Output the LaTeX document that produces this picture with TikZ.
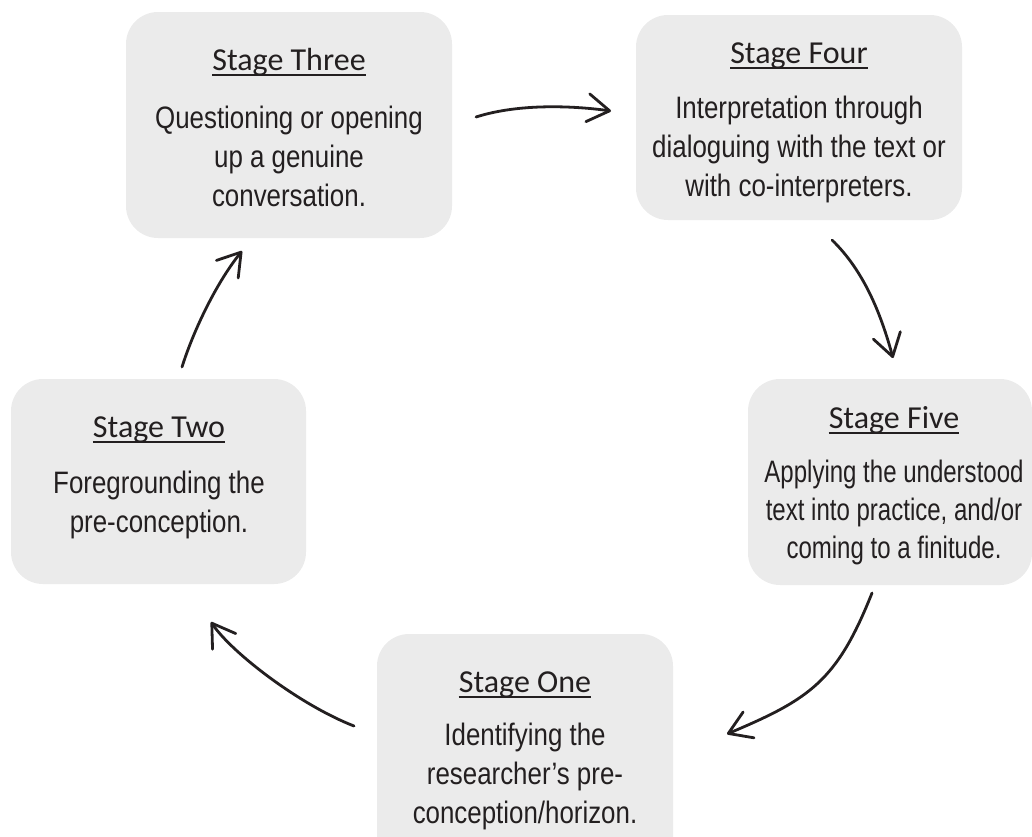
\documentclass[tikz,border=0pt]{standalone}
\usepackage{fontspec}
\setmainfont{Liberation Sans}
\newfontfamily\headfont{Carlito}
\newfontfamily\plainbody{Liberation Sans}[FakeStretch=0.835]
\newfontfamily\narrowbody{Liberation Sans}[FakeStretch=0.775]
\usetikzlibrary{arrows.meta}

\definecolor{boxgray}{HTML}{EBEBEB}
\definecolor{ink}{HTML}{231F20}

\begin{document}
\begin{tikzpicture}[x=1pt,y=-1pt,
  stagebox/.style={fill=boxgray, rounded corners=32pt, inner sep=0pt, draw=none},
  stagetitle/.style={anchor=base, inner sep=0pt, text=ink,
    font=\headfont\fontsize{32}{38}\selectfont},
  stagetext/.style={anchor=base, inner sep=0pt, text=ink,
    font=\plainbody\fontsize{31}{39}\selectfont},
  narrowtext/.style={stagetext, font=\narrowbody\fontsize{31}{38}\selectfont},
  titlerule/.style={draw=ink, line width=2pt},
  flow/.style={draw=ink, line width=2.8pt, line cap=round,
    -{Straight Barb[round,length=22pt,width=28pt]}}
]
\useasboundingbox (0,0) rectangle (1032,836);
\clip (0,0) rectangle (1032,836);

% stage boxes
\node[stagebox, minimum width=326pt, minimum height=226pt] (three) at (289,125) {};
\node[stagebox, minimum width=326pt, minimum height=205pt] (four) at (799,117.5) {};
\node[stagebox, minimum width=284pt, minimum height=206pt] (five) at (890,482) {};
\node[stagebox, minimum width=295pt, minimum height=205pt] (two) at (158.5,481.5) {};
\node[stagebox, minimum width=296pt, minimum height=250pt] (one) at (525,759) {};

% titles
\node[stagetitle] (three-title) at (289,70) {Stage Three};
\node[stagetitle] (four-title) at (799,63) {Stage Four};
\node[stagetitle] (five-title) at (894,428) {Stage Five};
\node[stagetitle] (two-title) at (159,437) {Stage Two};
\node[stagetitle] (one-title) at (525,692) {Stage One};

\foreach \s in {three,four,five,two,one}
  \draw[titlerule] ([yshift=-5pt]\s-title.base west) -- ([yshift=-5pt]\s-title.base east);

% descriptions
\node[stagetext] (three-text) at (289,128)
  {\begin{tabular}[t]{@{}c@{}}Questioning or opening\\ up a genuine\\ conversation.\end{tabular}};
\node[stagetext] (four-text) at (799,118)
  {\begin{tabular}[t]{@{}c@{}}Interpretation through\\ dialoguing with the text or\\ with co-interpreters.\end{tabular}};
\node[narrowtext] (five-text) at (894,482)
  {\begin{tabular}[t]{@{}c@{}}Applying the understood\\ text into practice, and/or\\ coming to a finitude.\end{tabular}};
\node[stagetext] (two-text) at (159,493)
  {\begin{tabular}[t]{@{}c@{}}Foregrounding the\\ pre-conception.\end{tabular}};
\node[stagetext] (one-text) at (525,745)
  {\begin{tabular}[t]{@{}c@{}}Identifying the\\ researcher’s pre-\\ conception/horizon.\end{tabular}};

% connector end points
\coordinate (c34a) at (476,117);  \coordinate (c34b) at (611,111);
\coordinate (c45a) at (832,240);  \coordinate (c45b) at (893,358);
\coordinate (c51a) at (872,593);  \coordinate (c51b) at (727,734);
\coordinate (c12a) at (354,726);  \coordinate (c12b) at (211,622);
\coordinate (c23a) at (182,367);  \coordinate (c23b) at (242,251);

% the cycle
\draw[flow] (c34a) .. controls (520,103) and (575,106) .. (c34b);
\draw[flow] (c45a) .. controls (864,271) and (881,314) .. (c45b);
\draw[flow] (c51a) .. controls (837,681) and (810,699) .. (c51b);
\draw[flow] (c12a) .. controls (300,705) and (232,653) .. (c12b);
\draw[flow] (c23a) .. controls (194,329) and (217,282) .. (c23b);
\end{tikzpicture}
\end{document}
